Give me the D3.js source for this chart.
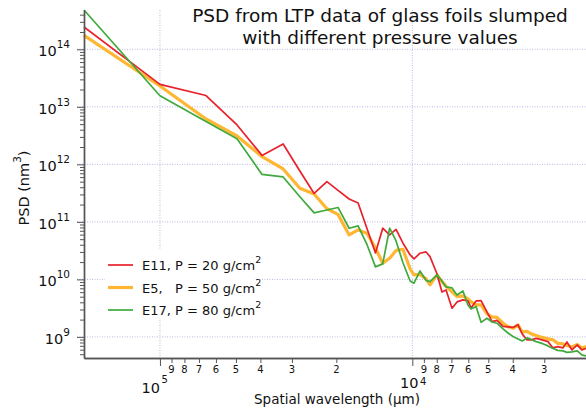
<!DOCTYPE html>
<html>
<head>
<meta charset="utf-8">
<script src="https://cdn.jsdelivr.net/npm/d3@7"></script>
<style>
  body { margin: 0; background: #fff; }
  svg { font-family: "DejaVu Sans", sans-serif; }
</style>
</head>
<body>
<svg id="chart" width="586" height="410"></svg>
<script>
// spatial wavelength (um), shared by the three traces
const wavelength = [2.0e5, 1.0e5, 6.57e4, 4.95e4, 3.94e4, 3.25e4, 2.79e4, 2.45e4, 2.18e4, 1.97e4,
  1.78e4, 1.64e4, 1.51e4, 1.40e4, 1.31e4, 1.23e4, 1.16e4, 1.09e4, 1.02e4, 9850,
  9320, 8820, 8510, 7980, 7630, 7350, 6960, 6650, 6300, 6020,
  5850, 5590, 5340, 5060, 4830, 4620, 4370, 4180, 3990, 3810,
  3670, 3510, 3380, 3230, 3060, 2900, 2770, 2650, 2530, 2440,
  2330, 2220, 2130, 2050];

// PSD (nm^3)
const psdE11 = [2.44e14, 2.46e13, 1.57e13, 4.84e12, 1.43e12, 2.26e12, 7.67e11, 3.12e11, 5.00e11, 3.52e11,
  2.50e11, 2.13e11, 7.53e10, 2.88e10, 7.75e10, 5.93e10, 7.38e10, 4.30e10, 2.66e10, 2.27e10,
  2.85e10, 3.00e10, 2.49e10, 1.24e10, 6.05e9, 6.56e9, 3.15e9, 4.06e9, 4.40e9, 4.22e9,
  3.19e9, 4.22e9, 4.27e9, 2.72e9, 1.84e9, 1.94e9, 1.52e9, 1.49e9, 1.46e9, 1.62e9,
  1.13e9, 8.87e8, 8.87e8, 9.42e8, 8.87e8, 8.29e8, 6.44e8, 6.78e8, 6.44e8, 8.19e8,
  5.94e8, 7.26e8, 5.94e8, 6.36e8];
const psdE5 = [1.74e14, 2.30e13, 6.15e12, 3.11e12, 1.36e12, 8.31e11, 3.84e11, 3.06e11, 1.69e11, 1.35e11,
  5.93e10, 7.24e10, 6.29e10, 3.52e10, 1.91e10, 2.33e10, 3.19e10, 3.34e10, 1.52e10, 1.20e10,
  1.22e10, 1.02e10, 8.01e9, 1.20e10, 9.14e9, 7.55e9, 6.05e9, 5.02e9, 5.16e9, 4.58e9,
  4.06e9, 3.60e9, 3.60e9, 2.51e9, 2.23e9, 2.18e9, 1.73e9, 1.51e9, 1.41e9, 1.62e9,
  1.22e9, 1.25e9, 1.13e9, 1.06e9, 9.80e8, 9.23e8, 8.87e8, 7.71e8, 7.55e8, 7.12e8,
  6.70e8, 7.41e8, 6.44e8, 6.78e8];
const psdE17 = [4.82e14, 1.56e13, 5.56e12, 2.79e12, 6.67e11, 6.04e11, 2.74e11, 1.43e11, 1.61e11, 1.78e11,
  7.75e10, 8.50e10, 3.97e10, 1.65e10, 1.86e10, 7.75e10, 4.66e10, 1.97e10, 9.40e9, 8.58e9,
  1.40e10, 9.59e9, 9.14e9, 1.20e10, 9.40e9, 7.39e9, 7.10e9, 5.37e9, 6.30e9, 3.60e9,
  3.07e9, 3.39e9, 1.79e9, 2.11e9, 1.82e9, 1.73e9, 1.38e9, 1.17e9, 1.02e9, 9.23e8,
  8.52e8, 9.61e8, 9.05e8, 8.29e8, 7.71e8, 6.98e8, 6.31e8, 5.83e8, 5.71e8, 5.38e8,
  5.49e8, 5.71e8, 4.87e8, 4.68e8];

const legendLabels = ["E11, P = 20 g/cm", "E5,   P = 50 g/cm", "E17, P = 80 g/cm"];
const xMajorTicks = [1e5, 1e4];
const xMinorTicks = [9e4, 8e4, 7e4, 6e4, 5e4, 4e4, 3e4, 2e4, 9e3, 8e3, 7e3, 6e3, 5e3, 4e3, 3e3];
const yMajorTicks = [1e9, 1e10, 1e11, 1e12, 1e13, 1e14];

const svg = d3.select("#chart");
const plot = { left: 84, right: 586, top: 10, bottom: 358 };

const x = d3.scaleLog().domain([2.0e5, 2050]).range([plot.left, plot.right]);
const y = d3.scaleLog().domain([4.3e8, 4.82e14]).range([plot.bottom, plot.top]);

// y minor ticks: 2..9 of every decade inside the domain
const yMinorTicks = [];
for (let e = 8; e <= 14; e++) {
    for (let m = 2; m <= 9; m++) {
        const v = m * Math.pow(10, e);
        if (v >= y.domain()[0] && v <= y.domain()[1]) yMinorTicks.push(v);
    }
}

// grid
const grid = svg.append("g")
    .attr("stroke", "#b8b8e2")
    .attr("stroke-width", 1)
    .attr("stroke-dasharray", "1,1.5");
grid.selectAll("line.h").data(yMajorTicks).join("line")
    .attr("x1", plot.left - 7).attr("x2", plot.right)
    .attr("y1", d => y(d)).attr("y2", d => y(d));
grid.selectAll("line.v").data(xMajorTicks).join("line")
    .attr("x1", d => x(d)).attr("x2", d => x(d))
    .attr("y1", plot.top).attr("y2", plot.bottom);

// legend background hides the grid behind it
svg.append("rect")
    .attr("x", 105).attr("y", 250)
    .attr("width", 153).attr("height", 68)
    .attr("fill", "#fff");

// traces
const traces = [
    { values: psdE5, color: "#ffb733", width: 3.2 },
    { values: psdE11, color: "#e8222b", width: 1.7 },
    { values: psdE17, color: "#3faa3c", width: 1.7 }
];
const line = d3.line()
    .x((d, i) => x(wavelength[i]))
    .y(d => y(d));

traces.forEach(t => {
    svg.append("path")
        .datum(t.values)
        .attr("fill", "none")
        .attr("stroke", t.color)
        .attr("stroke-width", t.width)
        .attr("stroke-linejoin", "round")
        .attr("d", line);
});

// axes
const axisColor = "#555";
function styleAxis(g) {
    g.select(".domain").attr("stroke", axisColor).attr("stroke-width", 1.4);
    g.selectAll(".tick line").attr("stroke", axisColor).attr("stroke-width", 1);
    g.selectAll(".tick text").remove();
}

svg.append("g")
    .attr("transform", `translate(${plot.left},0)`)
    .call(d3.axisLeft(y).tickValues(yMinorTicks).tickSize(4).tickSizeOuter(0))
    .call(styleAxis);
svg.append("g")
    .attr("transform", `translate(${plot.left},0)`)
    .call(d3.axisLeft(y).tickValues(yMajorTicks).tickSize(7).tickSizeOuter(0))
    .call(styleAxis);

svg.append("g")
    .attr("transform", `translate(0,${plot.bottom})`)
    .call(d3.axisBottom(x).tickValues(xMinorTicks).tickSize(5).tickSizeOuter(0))
    .call(styleAxis);
svg.append("g")
    .attr("transform", `translate(0,${plot.bottom})`)
    .call(d3.axisBottom(x).tickValues(xMajorTicks).tickSize(8).tickSizeOuter(0))
    .call(styleAxis);

// y tick labels 10^n
yMajorTicks.forEach(v => {
    const t = svg.append("text")
        .attr("x", 70)
        .attr("y", y(v) + 7)
        .attr("text-anchor", "end")
        .attr("fill", "#111")
        .style("font-size", "14.5px");
    t.append("tspan").text("10");
    t.append("tspan")
        .attr("dy", -8)
        .style("font-size", "10.5px")
        .text(Math.round(Math.log10(v)));
});

// x minor labels (leading digit)
svg.append("g").selectAll("text")
    .data(xMinorTicks)
    .join("text")
    .attr("x", d => x(d))
    .attr("y", plot.bottom + 14.5)
    .attr("text-anchor", "middle")
    .attr("fill", "#111")
    .style("font-size", "10px")
    .text(d => Math.round(d / Math.pow(10, Math.floor(Math.log10(d)))));

// x major labels 10^5 and 10^4 (offsets as in the original layout)
[[1e5, "end", 0, 35, 10], [1e4, "middle", -3, 29.5, 3]].forEach(([v, anchor, dx, dy, up]) => {
    const t = svg.append("text")
        .attr("x", x(v) + dx)
        .attr("y", plot.bottom + dy)
        .attr("text-anchor", anchor)
        .attr("fill", "#111")
        .style("font-size", "14.5px")
        .text("10");
    const bb = t.node().getBBox();
    svg.append("text")
        .attr("x", bb.x + bb.width + 1.5)
        .attr("y", plot.bottom + dy - up)
        .attr("fill", "#111")
        .style("font-size", "10px")
        .text(Math.round(Math.log10(v)));
});

// axis titles
svg.append("text")
    .attr("x", 337)
    .attr("y", 404)
    .attr("text-anchor", "middle")
    .attr("fill", "#111")
    .style("font-size", "13.5px")
    .text("Spatial wavelength (\u03bcm)");

const yTitle = svg.append("text")
    .attr("transform", "translate(28.5,188) rotate(-90)")
    .attr("text-anchor", "middle")
    .attr("fill", "#111")
    .style("font-size", "14.5px");
yTitle.append("tspan").text("PSD (nm");
yTitle.append("tspan").attr("dy", -8).style("font-size", "10.5px").text("3");
yTitle.append("tspan").attr("dy", 8).text(")");

// title
const title = svg.append("text")
    .attr("text-anchor", "middle")
    .attr("fill", "#111")
    .style("font-size", "18.5px");
title.append("tspan").attr("x", 380).attr("y", 22).text("PSD from LTP data of glass foils slumped");
title.append("tspan").attr("x", 380).attr("y", 44).text("with different pressure values");

// legend
const legendItems = [
    { label: legendLabels[0], color: "#e8222b", width: 1.7 },
    { label: legendLabels[1], color: "#ffb733", width: 3.2 },
    { label: legendLabels[2], color: "#3faa3c", width: 1.7 }
];
legendItems.forEach((d, i) => {
    const ly = 265 + i * 22.5;
    svg.append("line")
        .attr("x1", 108).attr("x2", 133)
        .attr("y1", ly).attr("y2", ly)
        .attr("stroke", d.color)
        .attr("stroke-width", d.width);
    const t = svg.append("text")
        .attr("x", 142)
        .attr("y", ly + 5)
        .attr("fill", "#111")
        .style("font-size", "13px")
        .style("white-space", "pre")
        .attr("xml:space", "preserve");
    t.append("tspan").text(d.label);
    t.append("tspan").attr("dy", -7).style("font-size", "9.5px").text("2");
});
</script>
</body>
</html>
